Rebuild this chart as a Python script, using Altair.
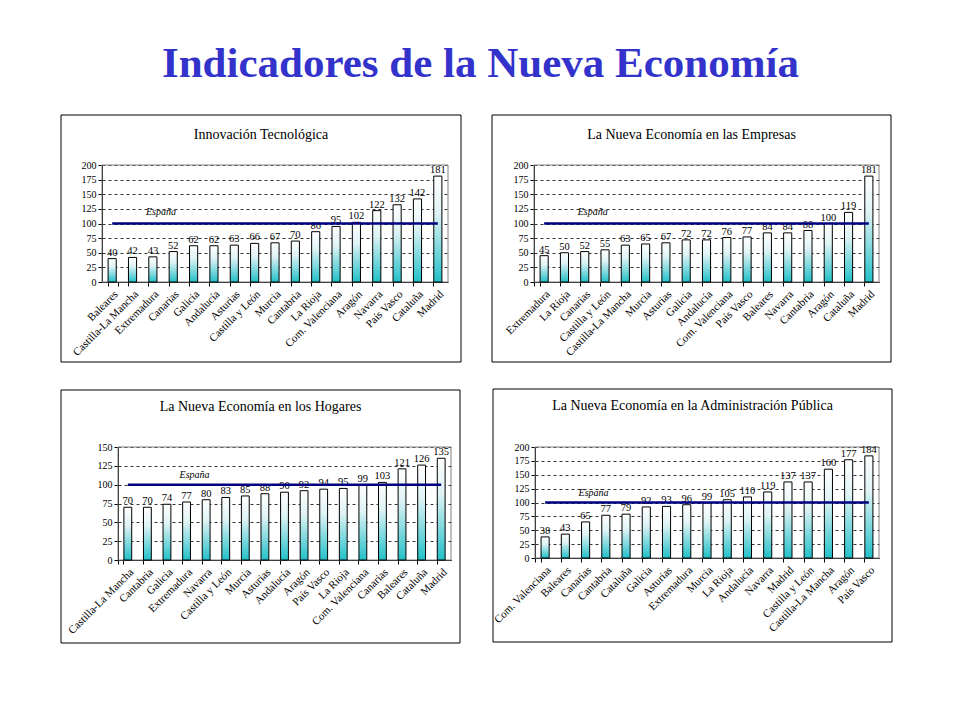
import altair as alt
import pandas as pd

SERIF = "Liberation Serif"
MAIN_TITLE = "Indicadores de la Nueva Economía"

# Panel 1
p1_title = "Innovación Tecnológica"
p1_regions = ["Baleares", "Castilla-La Mancha", "Extremadura", "Canarias", "Galicia",
              "Andalucía", "Asturias", "Castilla y León", "Murcia", "Cantabria", "La Rioja",
              "Com. Valenciana", "Aragón", "Navarra", "País Vasco", "Cataluña", "Madrid"]
p1_values = [40, 42, 43, 52, 62, 62, 63, 66, 67, 70, 86, 95, 102, 122, 132, 142, 181]

# Panel 2
p2_title = "La Nueva Economía en las Empresas"
p2_regions = ["Extremadura", "La Rioja", "Canarias", "Castilla y León", "Castilla-La Mancha",
              "Murcia", "Asturias", "Galicia", "Andalucía", "Com. Valenciana", "País Vasco",
              "Baleares", "Navarra", "Cantabria", "Aragón", "Cataluña", "Madrid"]
p2_values = [45, 50, 52, 55, 63, 65, 67, 72, 72, 76, 77, 84, 84, 88, 100, 119, 181]

# Panel 3
p3_title = "La Nueva Economía en los Hogares"
p3_regions = ["Castilla-La Mancha", "Cantabria", "Galicia", "Extremadura", "Navarra",
              "Castilla y León", "Murcia", "Asturias", "Andalucía", "Aragón", "País Vasco",
              "La Rioja", "Com. Valenciana", "Canarias", "Baleares", "Cataluña", "Madrid"]
p3_values = [70, 70, 74, 77, 80, 83, 85, 88, 90, 92, 94, 95, 99, 103, 121, 126, 135]

# Panel 4
p4_title = "La Nueva Economía en la Administración Pública"
p4_regions = ["Com. Valenciana", "Baleares", "Canarias", "Cantabria", "Cataluña", "Galicia",
              "Asturias", "Extremadura", "Murcia", "La Rioja", "Andalucía", "Navarra",
              "Madrid", "Castilla y León", "Castilla-La Mancha", "Aragón", "País Vasco"]
p4_values = [38, 43, 65, 77, 79, 92, 93, 96, 99, 105, 110, 119, 137, 137, 160, 177, 184]

REF_VALUE = 100
REF_LABEL = "España"

gradient = alt.Gradient(
    gradient="linear",
    stops=[alt.GradientStop(color="#ffffff", offset=0),
           alt.GradientStop(color="#dff3f5", offset=0.35),
           alt.GradientStop(color="#22c0c8", offset=1)],
    x1=0, x2=0, y1=0, y2=1,
)


def panel(title, regions, values, ymax, lab_cat, lab_y, W, H, fx1, fx2, fy1, fy2, ty, shift=0):
    df = pd.DataFrame({"region": regions, "valor": values, "ref": [REF_VALUE] * len(regions)})
    xenc = alt.X("region:N", sort=regions, title=None,
                 scale=alt.Scale(paddingInner=0.6, paddingOuter=0.3, range=[-shift, W]),
                 axis=alt.Axis(labelAngle=-45, bandPosition=0, tickExtra=True,
                               labelFont=SERIF, labelFontSize=11, tickSize=4,
                               labelPadding=2, grid=False))
    yscale = alt.Scale(domain=[0, ymax], nice=False)
    yaxis = alt.Axis(values=list(range(0, ymax + 1, 25)), grid=True, gridDash=[3, 3],
                     gridColor="black", gridWidth=0.8, tickSize=4, labelPadding=2,
                     labelFont=SERIF, labelFontSize=10, offset=shift)

    tdf = pd.DataFrame({"t": [title]})
    border = alt.Chart(tdf).mark_rect(filled=False, stroke="#808080", strokeWidth=1).encode(
        x=alt.value(-shift), x2=alt.value(W), y=alt.value(0), y2=alt.value(H))
    bars = alt.Chart(df).mark_bar(fill=gradient, stroke="black", strokeWidth=1).encode(
        x=xenc, y=alt.Y("valor:Q", scale=yscale, axis=yaxis, title=None))
    labels = alt.Chart(df).mark_text(baseline="bottom", dy=-1, font=SERIF, fontSize=10.5,
                                     color="black").encode(
        x=xenc, y=alt.Y("valor:Q", scale=yscale, axis=yaxis, title=None), text="valor:Q")
    line = alt.Chart(df).mark_line(color="#000080", strokeWidth=2.5).encode(
        x=xenc, y=alt.Y("ref:Q", scale=yscale, axis=yaxis, title=None))
    esp_df = pd.DataFrame({"region": [lab_cat], "y": [lab_y], "t": [REF_LABEL]})
    esp = alt.Chart(esp_df).mark_text(font=SERIF, fontSize=10, fontStyle="italic",
                                      color="black", dx=8).encode(
        x=xenc, y=alt.Y("y:Q", scale=yscale, axis=yaxis, title=None), text="t:N")
    frame = alt.Chart(tdf).mark_rect(filled=False, stroke="black", strokeWidth=1).encode(
        x=alt.value(fx1), x2=alt.value(fx2), y=alt.value(fy1), y2=alt.value(fy2))
    ttl = alt.Chart(tdf).mark_text(font=SERIF, fontSize=14, color="black",
                                   baseline="middle").encode(
        x=alt.value((fx1 + fx2) / 2), y=alt.value(ty), text="t:N")
    return alt.layer(frame, border, bars, labels, line, esp, ttl).properties(width=W, height=H)


# panel 1: plot origin shared with panel 3 (column alignment); its axis sits 16px further left
c1 = panel(p1_title, p1_regions, p1_values, 200, "Extremadura", 120, 330, 117, -57, 343, -50, 197, -30, shift=16)
c2 = panel(p2_title, p2_regions, p2_values, 200, "Canarias", 120, 345, 117, -42, 357, -50, 197, -30)
c3 = panel(p3_title, p3_regions, p3_values, 150, "Extremadura", 113, 333, 113, -57, 342, -57, 196, -40)
c4 = panel(p4_title, p4_regions, p4_values, 200, "Canarias", 117, 344, 111, -42, 357, -58, 195, -41)

chart = alt.vconcat(
    alt.hconcat(c1, c2, spacing=27),
    alt.hconcat(c3, c4, spacing=30),
    spacing=25,
).properties(
    title=alt.TitleParams(MAIN_TITLE, font=SERIF, fontSize=43, fontWeight="bold",
                          color="#3333CC", anchor="middle", offset=29, dx=4),
    padding={"left": 52, "top": 34, "right": 5, "bottom": 5},
    background="white",
).configure_view(stroke=None).configure_axis(
    domainColor="black", tickColor="black", labelColor="black"
)

chart.save("out.html", embed_options={"renderer": "svg", "actions": False})
